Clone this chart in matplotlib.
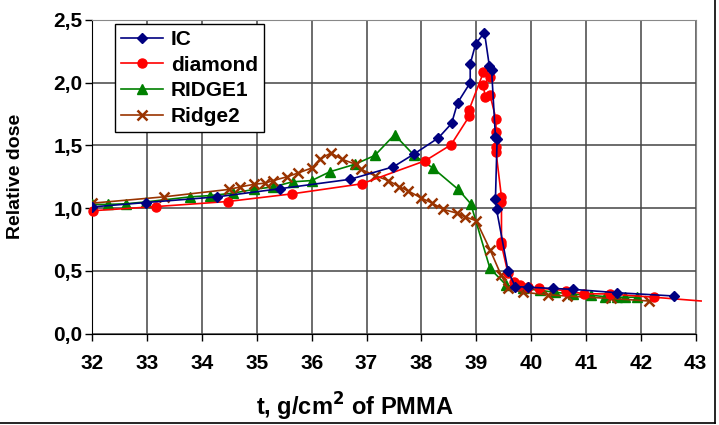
import matplotlib
matplotlib.use('Agg')
import matplotlib.pyplot as plt
from matplotlib.lines import Line2D

plt.rcParams['font.family'] = ['Liberation Sans', 'DejaVu Sans']
plt.rcParams['font.weight'] = 'bold'

# IC
ic_x = [32.0, 32.98, 34.27, 35.42, 36.7, 37.49, 37.86, 38.31, 38.55, 38.66, 38.89, 38.89,
        38.99, 39.15, 39.24, 39.28, 39.35, 39.38, 39.35, 39.37, 39.58, 39.71, 39.95, 40.4,
        40.76, 41.57, 42.6]
ic_y = [1.01, 1.045, 1.09, 1.155, 1.23, 1.33, 1.43, 1.56, 1.675, 1.84, 2.0, 2.15,
        2.31, 2.4, 2.13, 2.1, 1.57, 1.55, 1.07, 0.99, 0.5, 0.375, 0.37, 0.36,
        0.353, 0.326, 0.3]

# diamond (last point has no marker, line runs past the axes)
dia_x = [32.02, 33.17, 34.47, 35.64, 36.91, 38.07, 38.54, 38.87, 38.87, 39.13, 39.25, 39.13,
         39.16, 39.25, 39.36, 39.36, 39.36, 39.36, 39.46, 39.46, 39.46, 39.46, 39.58, 39.68,
         39.8, 39.94, 40.15, 40.63, 40.96, 41.44, 42.24, 43.1]
dia_y = [0.98, 1.013, 1.053, 1.114, 1.194, 1.378, 1.505, 1.731, 1.785, 2.082, 2.045, 1.984,
         1.89, 1.905, 1.71, 1.61, 1.49, 1.45, 1.088, 1.053, 0.733, 0.707, 0.48, 0.414,
         0.385, 0.37, 0.362, 0.343, 0.318, 0.316, 0.29, 0.26]

# RIDGE1
r1_x = [32.0, 32.28, 32.61, 32.98, 33.78, 34.14, 34.57, 34.95, 35.3, 35.65, 36.0, 36.33,
        36.79, 37.15, 37.51, 37.87, 38.21, 38.67, 38.9, 39.25, 39.55, 39.86, 40.16, 40.43,
        40.77, 41.1, 41.35, 41.57, 41.71, 41.93]
r1_y = [1.03, 1.03, 1.035, 1.05, 1.09, 1.1, 1.12, 1.15, 1.17, 1.21, 1.22, 1.29,
        1.35, 1.42, 1.585, 1.42, 1.32, 1.15, 1.035, 0.52, 0.385, 0.36, 0.345, 0.33,
        0.315, 0.305, 0.295, 0.29, 0.29, 0.29]

# Ridge2
r2_x = [32.0, 33.3, 34.5, 34.7, 34.95, 35.15, 35.3, 35.55, 35.75, 36.0, 36.15, 36.35,
        36.55, 36.8, 36.9, 37.15, 37.4, 37.6, 37.75, 38.0, 38.2, 38.4, 38.65, 38.8,
        39.0, 39.25, 39.45, 39.58, 39.85, 40.3, 40.65, 41.45, 42.15]
r2_y = [1.04, 1.09, 1.15, 1.17, 1.19, 1.2, 1.22, 1.25, 1.28, 1.32, 1.39, 1.44,
        1.39, 1.35, 1.31, 1.26, 1.22, 1.17, 1.14, 1.08, 1.04, 0.99, 0.96, 0.93,
        0.9, 0.67, 0.47, 0.36, 0.33, 0.31, 0.3, 0.28, 0.26]

x_ticks = list(range(32, 44))
y_ticks = [0.0, 0.5, 1.0, 1.5, 2.0, 2.5]
y_labels = ['0,0', '0,5', '1,0', '1,5', '2,0', '2,5']

fig = plt.figure(figsize=(7.19, 4.25), dpi=100)
ax = fig.add_axes([0.1284, 0.215, 0.8391, 0.738])

ax.plot(ic_x, ic_y, color='#000080', marker='D', markersize=5.5, linewidth=1.2, label='IC', zorder=5)
ax.plot(dia_x, dia_y, color='#FF0000', marker='o', markersize=6.5, linewidth=1.2, label='diamond',
        markevery=list(range(len(dia_x) - 1)), clip_on=False, zorder=4)
ax.plot(r1_x, r1_y, color='#008000', marker='^', markersize=7, linewidth=1.2, label='RIDGE1', zorder=3)
ax.plot(r2_x, r2_y, color='#993300', marker='x', markersize=7, markeredgewidth=1.8, linewidth=1.2,
        label='Ridge2', zorder=3)

ax.set_xlim(32, 43)
ax.set_ylim(0, 2.5)
ax.set_xticks(x_ticks)
ax.set_xticklabels([str(t) for t in x_ticks], fontsize=15, fontweight='bold')
ax.set_yticks(y_ticks)
ax.set_yticklabels(y_labels, fontsize=15, fontweight='bold')
ax.tick_params(direction='out', length=5, width=1)
ax.tick_params(axis='x', pad=10)
ax.tick_params(axis='y', pad=2)
ax.grid(True, color='#444444', linewidth=1.1)
ax.set_axisbelow(True)
for side in ['top', 'right']:
    ax.spines[side].set_color('#888888')
for side in ['left', 'bottom']:
    ax.spines[side].set_color('black')

ax.set_xlabel('t, g/cm$^\\mathbf{2}$ of PMMA', fontsize=17, fontweight='bold', va='center')
ax.xaxis.set_label_coords(0.435, -0.234)
ax.set_ylabel('Relative dose', fontsize=14, fontweight='bold', va='center')
ax.yaxis.set_label_coords(-0.128, 0.5)

leg = ax.legend(loc='upper left', bbox_to_anchor=(0.037, 0.988), fontsize=15, frameon=True,
                fancybox=False, edgecolor='black', framealpha=1, handlelength=2.0,
                borderpad=0.3, labelspacing=0.32, handletextpad=0.4, borderaxespad=0)
leg.get_frame().set_linewidth(1)

fig.add_artist(Line2D([0.9945, 0.9945], [0.005, 1.0], transform=fig.transFigure, color='black', linewidth=1.2))
fig.add_artist(Line2D([0.0, 0.9945], [0.005, 0.005], transform=fig.transFigure, color='black', linewidth=1.2))

fig.savefig('out.png', dpi=100)
